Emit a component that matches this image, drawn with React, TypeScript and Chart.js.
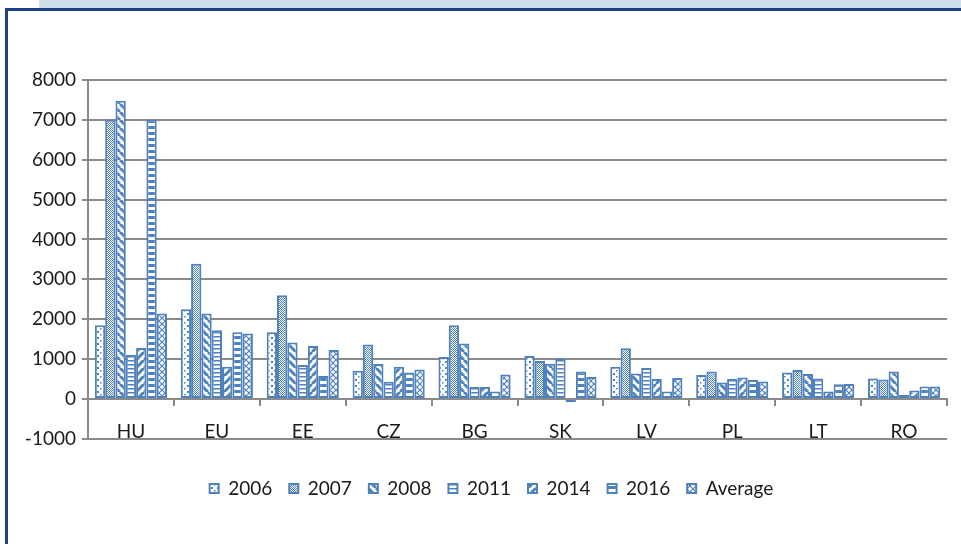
import React, { useEffect, useRef } from "react";
import { Chart, registerables } from "chart.js";

Chart.register(...registerables);

const categories = ["HU", "EU", "EE", "CZ", "BG", "SK", "LV", "PL", "LT", "RO"];
const seriesLabels = ["2006", "2007", "2008", "2011", "2014", "2016", "Average"];
const v2006 = [1850, 2250, 1670, 710, 1050, 1080, 810, 600, 660, 515];
const v2007 = [7000, 3390, 2600, 1365, 1850, 950, 1270, 685, 725, 490];
const v2008 = [7480, 2140, 1415, 875, 1390, 880, 640, 415, 625, 685];
const v2011 = [1100, 1725, 850, 433, 300, 1000, 775, 500, 515, 100];
const v2014 = [1280, 810, 1325, 810, 300, -85, 500, 535, 185, 210];
const v2016 = [7000, 1670, 575, 660, 185, 685, 185, 475, 370, 310];
const vAverage = [2140, 1640, 1225, 740, 615, 550, 525, 435, 375, 310];
const yMin = -1000;
const yMax = 8000;
const yStep = 1000;

const seriesValues = [v2006, v2007, v2008, v2011, v2014, v2016, vAverage];
const patternKinds = ["dots", "lattice", "downDiag", "hLines", "upDiag", "hThick", "diamond"];

const BLUE = "#4F81BD";
const GRID = "#8a8a8a";
const FONT = "Lato, 'Open Sans', sans-serif";
const FONT_SIZE = 19;

function makePattern(kind: string): CanvasPattern | string {
  const c = document.createElement("canvas");
  let w = 8;
  let h = 8;
  if (kind === "dots") { w = 6; h = 6; }
  if (kind === "lattice") { w = 4; h = 4; }
  if (kind === "hLines") { w = 4; h = 4; }
  if (kind === "hThick") { w = 6; h = 6; }
  if (kind === "diamond") { w = 6; h = 6; }
  c.width = w;
  c.height = h;
  const ctx = c.getContext("2d");
  if (!ctx) return BLUE;
  ctx.fillStyle = "#ffffff";
  ctx.fillRect(0, 0, w, h);
  ctx.fillStyle = BLUE;
  ctx.strokeStyle = BLUE;
  if (kind === "dots") {
    ctx.fillRect(1, 1, 2, 2);
    ctx.fillRect(4, 4, 1.5, 1.5);
  } else if (kind === "lattice") {
    for (let y = 0; y < h; y++) {
      for (let x = 0; x < w; x++) {
        if ((x + y) % 2 === 0) ctx.fillRect(x, y, 1, 1);
      }
    }
  } else if (kind === "downDiag") {
    ctx.lineWidth = 3;
    for (const o of [-8, 0, 8]) {
      ctx.beginPath();
      ctx.moveTo(o, 0);
      ctx.lineTo(o + 8, 8);
      ctx.stroke();
    }
  } else if (kind === "upDiag") {
    ctx.lineWidth = 3;
    for (const o of [-8, 0, 8]) {
      ctx.beginPath();
      ctx.moveTo(o, 8);
      ctx.lineTo(o + 8, 0);
      ctx.stroke();
    }
  } else if (kind === "hLines") {
    ctx.fillRect(0, 0, w, 1.5);
  } else if (kind === "hThick") {
    ctx.fillRect(0, 0, w, 3);
  } else if (kind === "diamond") {
    ctx.lineWidth = 1.2;
    for (const o of [-6, 0, 6]) {
      ctx.beginPath();
      ctx.moveTo(o, 0);
      ctx.lineTo(o + 6, 6);
      ctx.stroke();
      ctx.beginPath();
      ctx.moveTo(o, 6);
      ctx.lineTo(o + 6, 0);
      ctx.stroke();
    }
  }
  const p = ctx.createPattern(c, "repeat");
  return p || BLUE;
}

const legendShift = {
  id: "legendShift",
  afterLayout(chart: any) {
    const l = chart.legend;
    if (l) {
      l.left += 14;
      l.right += 14;
    }
  },
};

export default function App() {
  const canvasRef = useRef<HTMLCanvasElement | null>(null);

  useEffect(() => {
    const canvas = canvasRef.current;
    if (!canvas) return;
    const datasets = seriesLabels.map((label, i) => ({
      label,
      data: seriesValues[i],
      backgroundColor: makePattern(patternKinds[i]),
      borderColor: BLUE,
      borderWidth: 2,
      borderSkipped: false as const,
      categoryPercentage: 0.84,
      barPercentage: 1.0,
    }));

    const chart = new Chart(canvas, {
      type: "bar",
      data: { labels: categories, datasets: datasets as any },
      plugins: [legendShift],
      options: {
        responsive: false,
        animation: false,
        layout: { padding: { left: 8, right: 14, top: 80, bottom: 36 } },
        plugins: {
          tooltip: { enabled: false },
          legend: {
            display: true,
            position: "bottom",
            title: {
              display: true,
              text: " ",
              font: { size: 6 },
              padding: { top: 16, bottom: 0 },
            },
            labels: {
              boxWidth: 9,
              boxHeight: 9,
              padding: 17,
              color: "#1a1a1a",
              font: { family: FONT, size: FONT_SIZE },
            },
          },
        },
        scales: {
          x: {
            position: { y: 0 } as any,
            offset: true,
            grid: {
              display: true,
              drawOnChartArea: false,
              drawTicks: true,
              tickLength: 6,
              color: GRID,
              lineWidth: 2,
              offset: true,
            },
            border: { display: true, color: GRID, width: 2 },
            ticks: {
              color: "#1a1a1a",
              font: { family: FONT, size: FONT_SIZE },
              padding: 16,
              maxRotation: 0,
            },
          },
          y: {
            min: yMin,
            max: yMax,
            ticks: {
              stepSize: yStep,
              color: "#1a1a1a",
              font: { family: FONT, size: FONT_SIZE },
              padding: 6,
              callback: (v: any) => String(v),
            },
            grid: {
              color: GRID,
              lineWidth: 2,
              drawTicks: true,
              tickLength: 6,
            },
            border: { display: true, color: GRID, width: 2 },
            afterFit: (scale: any) => {
              scale.width = 80;
            },
          },
        },
      },
    });
    return () => chart.destroy();
  }, []);

  return (
    <div style={{ position: "fixed", left: 0, top: 0, width: 961, height: 544, background: "#ffffff", overflow: "hidden" }}>
      <div style={{ position: "absolute", left: 39, top: 0, width: 922, height: 8, background: "#cfe0ea" }} />
      <div
        style={{
          position: "absolute",
          left: 5,
          top: 8,
          width: 1000,
          height: 600,
          borderLeft: "3px solid #1d3f85",
          borderTop: "3px solid #1d3f85",
        }}
      />
      <canvas ref={canvasRef} width={961} height={544} style={{ position: "absolute", left: 0, top: 0 }} />
    </div>
  );
}
